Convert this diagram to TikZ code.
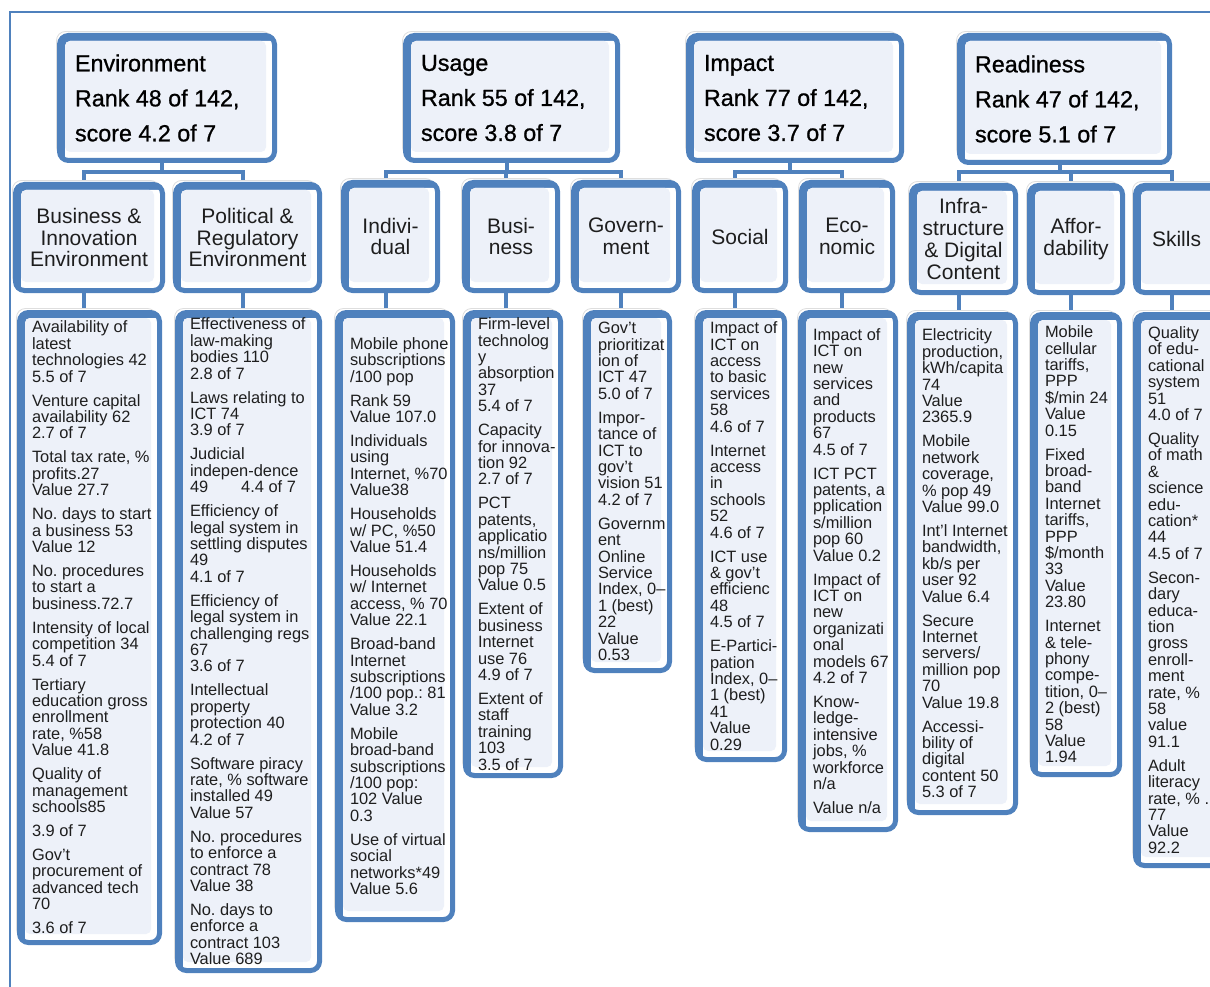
\documentclass[tikz,border=0pt]{standalone}
\usepackage{fontspec}
\setmainfont{Liberation Sans}
\newfontfamily\topfont[FakeBold=0.9]{Liberation Sans}
\usetikzlibrary{backgrounds}
\definecolor{boxblue}{HTML}{4F81BD}
\definecolor{cellfill}{HTML}{EDF1F9}
\definecolor{ink}{HTML}{1E1E1E}
\newcommand\gap{\\[7.6pt]}
\newcommand\bx[7][]{%
  \pgfmathsetmacro\bxW{#5-#3-5}%
  \pgfmathsetmacro\bxH{#6-#4-5}%
  \pgfmathsetmacro\bxT{#5-#3-30}%
  \pgfmathsetmacro\bxU{#5-#3-36}%
  \pgfmathsetmacro\bxX{(#3+#5)/2}%
  \pgfmathsetmacro\bxY{(#4+#6)/2}%
  \node[box,minimum width=\bxW pt,minimum height=\bxH pt,#1] (#2) at (\bxX,\bxY) {#7};}
\newcommand\lt[2][\bxT]{\makebox[#1 pt][l]{\parbox{400pt}{\raggedright #2}}}
\begin{document}
\begin{tikzpicture}[x=1pt,y=-1pt,
  box/.style={rectangle, rounded corners=9pt, draw=boxblue, line width=5pt, fill=white, text=ink, inner sep=0pt,
    preaction={draw=black!13, line width=0.8pt, fill=white, transform canvas={shift={(-3pt,4pt)}}},
    path picture={
      \fill[boxblue, sharp corners] (path picture bounding box.north west) rectangle (path picture bounding box.south east);
      \fill[white, rounded corners=5pt] ([shift={(5.5pt,-5.5pt)}]path picture bounding box.north west) rectangle ([shift={(30pt,-30pt)}]path picture bounding box.south east);
      \fill[cellfill, rounded corners=5pt] ([shift={(5.5pt,-5.5pt)}]path picture bounding box.north west) rectangle ([shift={(-8.5pt,8.5pt)}]path picture bounding box.south east);
    }},
  top/.style={inner xsep=15.5pt, text=black, font=\topfont\fontsize{23.3}{35}\selectfont\frenchspacing},
  mid/.style={align=center, font=\fontsize{21}{21.7}\selectfont},
  leaf/.style={inner xsep=12.5pt, font=\fontsize{16.4}{16.4}\selectfont\frenchspacing},
  conn/.style={draw=boxblue, line width=4pt},
  frame/.style={draw=boxblue, line width=2pt}]
\useasboundingbox (0,0) rectangle (1210,987);

% top level
\bx[top]{env}{57}{33}{277}{163}{\lt[\bxU]{Environment\\Rank 48 of 142,\\score 4.2 of 7}}
\bx[top]{usa}{403}{33}{620}{163}{\lt[\bxU]{Usage\\Rank 55 of 142,\\score 3.8 of 7}}
\bx[top]{imp}{686}{33}{904}{163}{\lt[\bxU]{Impact\\Rank 77 of 142,\\score 3.7 of 7}}
\bx[top]{rea}{957}{33}{1172}{165}{\lt[\bxU]{Readiness\\Rank 47 of 142,\\score 5.1 of 7}}

% second level
\bx[mid]{bin2}{13}{182}{165}{293}{Business \&\\Innovation\\Environment}
\bx[mid]{pol2}{173}{182}{322}{293}{Political \&\\Regulatory\\Environment}
\bx[mid]{ind2}{341}{180}{440}{293}{Indivi-\\dual}
\bx[mid]{bus2}{462}{180}{560}{293}{Busi-\\ness}
\bx[mid]{gov2}{571}{180}{681}{293}{Govern-\\ment}
\bx[mid]{soc2}{692}{180}{788}{293}{Social}
\bx[mid]{eco2}{799}{180}{895}{293}{Eco-\\nomic}
\bx[mid]{inf2}{909}{183}{1018}{295}{Infra-\\structure\\\& Digital\\Content}
\bx[mid]{aff2}{1027}{183}{1125}{295}{Affor-\\dability}
\bx[mid]{ski2}{1133}{183}{1226}{295}{\hspace*{-6pt}Skills}

% third level
\bx[leaf]{bin3}{17}{310}{162}{945}{\lt{Availability of\\latest\\technologies 42\\5.5 of 7\gap
Venture capital\\availability 62\\2.7 of 7\gap
Total tax rate, \%\\profits.27\\Value 27.7\gap
No. days to start\\a business 53\\Value 12\gap
No. procedures\\to start a\\business.72.7\gap
Intensity of local\\competition 34\\5.4 of 7\gap
Tertiary\\education gross\\enrollment\\rate, \%58\\Value 41.8\gap
Quality of\\management\\schools85\gap
3.9 of 7\gap
Gov't\\procurement of\\advanced tech\\70\gap
3.6 of 7}}

\bx[leaf]{pol3}{175}{310}{322}{973}{\lt{Effectiveness of\\law-making\\bodies 110\\2.8 of 7\gap
Laws relating to\\ICT 74\\3.9 of 7\gap
Judicial\\indepen-dence\\49\hspace{33pt}4.4 of 7\gap
Efficiency of\\legal system in\\settling disputes\\49\\4.1 of 7\gap
Efficiency of\\legal system in\\challenging regs\\67\\3.6 of 7\gap
Intellectual\\property\\protection 40\\4.2 of 7\gap
Software piracy\\rate, \% software\\installed 49\\Value 57\gap
No. procedures\\to enforce a\\contract 78\\Value 38\gap
No. days to\\enforce a\\contract 103\\Value 689}}

\bx[leaf]{ind3}{335}{310}{455}{922}{\lt{Mobile phone\\subscriptions\\/100 pop\gap
Rank 59\\Value 107.0\gap
Individuals\\using\\Internet, \%70\\Value38\gap
Households\\w/ PC, \%50\\Value 51.4\gap
Households\\w/ Internet\\access, \% 70\\Value 22.1\gap
Broad-band\\Internet\\subscriptions\\/100 pop.: 81\\Value 3.2\gap
Mobile\\broad-band\\subscriptions\\/100 pop:\\102 Value\\0.3\gap
Use of virtual\\social\\networks*49\\Value 5.6}}

\bx[leaf]{bus3}{463}{310}{563}{778}{\lt{Firm-level\\technolog\\y\\absorption\\37\\5.4 of 7\gap
Capacity\\for innova-\\tion 92\\2.7 of 7\gap
PCT\\patents,\\applicatio\\ns/million\\pop 75\\Value 0.5\gap
Extent of\\business\\Internet\\use 76\\4.9 of 7\gap
Extent of\\staff\\training\\103\\3.5 of 7}}

\bx[leaf]{gov3}{583}{310}{672}{673}{\lt{Gov't\\prioritizat\\ion of\\ICT 47\\5.0 of 7\gap
Impor-\\tance of\\ICT to\\gov't\\vision 51\\4.2 of 7\gap
Governm\\ent\\Online\\Service\\Index, 0–\\1 (best)\\22\\Value\\0.53}}

\bx[leaf]{soc3}{695}{310}{787}{762}{\lt{Impact of\\ICT on\\access\\to basic\\services\\58\\4.6 of 7\gap
Internet\\access\\in\\schools\\52\\4.6 of 7\gap
ICT use\\\& gov't\\efficienc\\48\\4.5 of 7\gap
E-Partici-\\pation\\Index, 0–\\1 (best)\\41\\Value\\0.29}}

\bx[leaf]{eco3}{798}{310}{898}{832}{\lt{Impact of\\ICT on\\new\\services\\and\\products\\67\\4.5 of 7\gap
ICT PCT\\patents, a\\pplication\\s/million\\pop 60\\Value 0.2\gap
Impact of\\ICT on\\new\\organizati\\onal\\models 67\\4.2 of 7\gap
Know-\\ledge-\\intensive\\jobs, \%\\workforce\\n/a\gap
Value n/a}}

\bx[leaf]{inf3}{907}{312}{1018}{815}{\lt{Electricity\\production,\\kWh/capita\\74\\Value\\2365.9\gap
Mobile\\network\\coverage,\\\% pop 49\\Value 99.0\gap
Int'l Internet\\bandwidth,\\kb/s per\\user 92\\Value 6.4\gap
Secure\\Internet\\servers/\\million pop\\70\\Value 19.8\gap
Accessi-\\bility of\\digital\\content 50\\5.3 of 7}}

\bx[leaf]{aff3}{1030}{312}{1122}{777}{\lt{Mobile\\cellular\\tariffs,\\PPP\\\$/min 24\\Value\\0.15\gap
Fixed\\broad-\\band\\Internet\\tariffs,\\PPP\\\$/month\\33\\Value\\23.80\gap
Internet\\\& tele-\\phony\\compe-\\tition, 0–\\2 (best)\\58\\Value\\1.94}}

\bx[leaf]{ski3}{1133}{312}{1226}{868}{\lt{Quality\\of edu-\\cational\\system\\51\\4.0 of 7\gap
Quality\\of math\\\&\\science\\edu-\\cation*\\44\\4.5 of 7\gap
Secon-\\dary\\educa-\\tion\\gross\\enroll-\\ment\\rate, \%\\58\\value\\91.1\gap
Adult\\literacy\\rate, \% .\\77\\Value\\92.2}}

\begin{scope}[on background layer]
  \draw[frame] (10,987) -- (10,12) -- (1210,12);
  \coordinate (envb) at ([xshift=-5pt]env.south |- 0,172);
  \coordinate (usab) at ([xshift=-5pt]usa.south |- 0,172);
  \coordinate (impb) at ([xshift=-5pt]imp.south |- 0,172);
  \coordinate (reab) at ([xshift=-5pt]rea.south |- 0,172);
  \draw[conn] ([xshift=-5pt]env.south) -- (envb);
  \draw[conn] (envb) -| ([xshift=-5pt]bin2.north);
  \draw[conn] (envb) -| ([xshift=-5pt]pol2.north);
  \draw[conn] ([xshift=-5pt]usa.south) -- (usab);
  \draw[conn] (usab) -| ([xshift=-5pt]ind2.north);
  \draw[conn] (usab) -| ([xshift=-5pt]bus2.north);
  \draw[conn] (usab) -| ([xshift=-5pt]gov2.north);
  \draw[conn] ([xshift=-5pt]imp.south) -- (impb);
  \draw[conn] (impb) -| ([xshift=-5pt]soc2.north);
  \draw[conn] (impb) -| ([xshift=-5pt]eco2.north);
  \draw[conn] ([xshift=-5pt]rea.south) -- (reab);
  \draw[conn] (reab) -| ([xshift=-5pt]inf2.north);
  \draw[conn] (reab) -| ([xshift=-5pt]aff2.north);
  \draw[conn] (reab) -| ([xshift=-8pt]ski2.north);
  \foreach \a/\b in {bin2/bin3,pol2/pol3,ind2/ind3,bus2/bus3,gov2/gov3,soc2/soc3,eco2/eco3,inf2/inf3,aff2/aff3}
    \draw[conn] ([xshift=-5pt]\a.south) -- ([xshift=-5pt]\a.south |- \b.north);
  \draw[conn] ([xshift=-8pt]ski2.south) -- ([xshift=-8pt]ski2.south |- ski3.north);
\end{scope}
\end{tikzpicture}
\end{document}
